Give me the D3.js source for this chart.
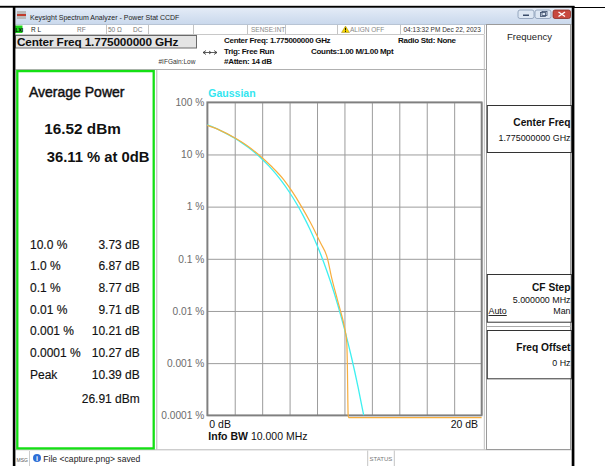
<!DOCTYPE html>
<html><head><meta charset="utf-8">
<script src="https://cdn.jsdelivr.net/npm/d3@7"></script>
<style>
html,body{margin:0;padding:0;background:#fff;}
svg{display:block;font-family:"Liberation Sans",Arial,sans-serif;}
</style></head><body>
<svg id="c" width="605" height="466"></svg>
<script>
// ---------- data ----------
const gaussDb  = [0,0.5,1,1.5,2,2.5,3,3.5,4,4.5,5,5.5,6,6.5,7,7.5,8,8.5,9,9.5,10,10.5,11,11.4];
const gaussPct = [36.79,32.56,28.40,24.35,20.50,16.89,13.60,10.66,8.11,5.97,4.232,2.878,1.867,1.148,0.6654,0.3607,0.1817,0.0843,0.0355,0.01347,0.00454,0.00134,0.000341,0.000101];
const measDb   = [0,0.82,2.12,2.86,3.73,4.65,5.61,6.16,6.87,7.51,7.94,8.26,8.77,9.05,9.3,9.5,9.71,9.9,10.05,10.17,10.21,10.27,10.3,20];
const measPct  = [36.11,30,20,15,10,6,3.2,2,1,0.5,0.3,0.2,0.1,0.045,0.025,0.016,0.01,0.0065,0.0042,0.0025,0.001,0.0001,0.00009,0.00009];
const yTickValues = [100,10,1,0.1,0.01,0.001,0.0001];
const yTickLabels = ["100 %","10 %","1 %","0.1 %","0.01 %","0.001 %","0.0001 %"];
const xTickValues = [0,2,4,6,8,10,12,14,16,18,20];
const xEndLabels  = ["0 dB","20 dB"];
const statLevels = ["10.0 %","1.0 %","0.1 %","0.01 %","0.001 %","0.0001 %","Peak"];
const statValues = ["3.73 dB","6.87 dB","8.77 dB","9.71 dB","10.21 dB","10.27 dB","10.39 dB"];
const peakDbm = "26.91 dBm";
const avgTitle = "Average Power";
const avgPower = "16.52 dBm";
const pctAtZero = "36.11 % at 0dB";
const traceLabel = "Gaussian";

const svg = d3.select("#c");
const F = "'Liberation Sans',Arial,sans-serif";
function txt(g,x,y,s,opt={}){
  const t = g.append("text").attr("x",x).attr("y",y).text(s)
    .attr("font-size",opt.size||8).attr("fill",opt.fill||"#000")
    .attr("font-weight",opt.bold?"bold":"normal")
    .attr("text-anchor",opt.anchor||"start");
  if(opt.ls!==undefined) t.attr("letter-spacing",opt.ls);
  if(opt.deco) t.attr("text-decoration",opt.deco);
  if(opt.sw) t.attr("stroke",opt.fill||"#000").attr("stroke-width",opt.sw);
  return t;
}

// ---------- window frame ----------
const defs = svg.append("defs");
const tg = defs.append("linearGradient").attr("id","tb").attr("x1",0).attr("y1",0).attr("x2",0).attr("y2",1);
tg.append("stop").attr("offset","0").attr("stop-color","#e4ecf7");
tg.append("stop").attr("offset","1").attr("stop-color","#c9d8ec");
svg.append("rect").attr("x",15.5).attr("y",7.5).attr("width",556).attr("height",17).attr("fill","url(#tb)");
// icon
svg.append("rect").attr("x",17).attr("y",11).attr("width",9).attr("height",8).attr("fill","#b9b9b9");
svg.append("rect").attr("x",17).attr("y",14).attr("width",9).attr("height",2).attr("fill","#c0392b");
txt(svg,30,19.5,"Keysight Spectrum Analyzer - Power Stat CCDF",{size:7,fill:"#1e1e1e"});
// window buttons
[[518,"min"],[535,"res"]].forEach(([bx,k])=>{
  svg.append("rect").attr("x",bx).attr("y",10).attr("width",16).attr("height",8.5).attr("rx",2)
    .attr("fill","#dde7f3").attr("stroke","#8799b3").attr("stroke-width",0.8);
  if(k==="min") svg.append("rect").attr("x",bx+5).attr("y",14.5).attr("width",6).attr("height",1.5).attr("fill","#3a4d6a");
  else { svg.append("rect").attr("x",bx+5.5).attr("y",12.5).attr("width",5).attr("height",4).attr("fill","none").attr("stroke","#3a4d6a").attr("stroke-width",0.8);
         svg.append("rect").attr("x",bx+7).attr("y",11.5).attr("width",5).attr("height",4).attr("fill","none").attr("stroke","#3a4d6a").attr("stroke-width",0.8);}
});
svg.append("rect").attr("x",553).attr("y",10).attr("width",17.5).attr("height",8.5).attr("rx",2)
  .attr("fill","#c8493f").attr("stroke","#8a2d25").attr("stroke-width",0.8);
svg.append("path").attr("d","M558.5,12 L565,16.5 M565,12 L558.5,16.5").attr("stroke","#fff").attr("stroke-width",1.4);

// status row
svg.append("line").attr("x1",15.5).attr("x2",484.5).attr("y1",34.5).attr("y2",34.5).attr("stroke","#c8c8c8");
svg.append("line").attr("x1",15.5).attr("x2",571.5).attr("y1",24.5).attr("y2",24.5).attr("stroke","#b8c4d4");
svg.append("rect").attr("x",15).attr("y",25.5).attr("width",7.5).attr("height",7.5).attr("fill","#1ed61e");
txt(svg,15.4,31.7,"LXI",{size:5,bold:true,fill:"#000"});
txt(svg,31,31.5,"R L",{size:6.5,fill:"#222"});
txt(svg,77,31.5,"RF",{size:6.5,fill:"#777"});
txt(svg,108,31.5,"50 Ω",{size:6.5,fill:"#777"});
txt(svg,133,31.5,"DC",{size:6.5,fill:"#777"});
[106,148,193,247,285,337,400,484].forEach(sx=>{
  svg.append("line").attr("x1",sx+0.5).attr("x2",sx+0.5).attr("y1",25).attr("y2",34).attr("stroke","#c4c4c4");
});
txt(svg,251,31.5,"SENSE:INT",{size:6.5,fill:"#888"});
svg.append("path").attr("d","M345.5,26 L349.5,32.5 L341.5,32.5 Z").attr("fill","#f5d400").attr("stroke","#8a7300").attr("stroke-width",0.4);
svg.append("rect").attr("x",345.1).attr("y",27.8).attr("width",0.9).attr("height",2.6).attr("fill","#000");
svg.append("rect").attr("x",345.1).attr("y",31).attr("width",0.9).attr("height",0.9).attr("fill","#000");
txt(svg,350,31.5,"ALIGN OFF",{size:6.5,fill:"#888"});
txt(svg,403.5,31.5,"04:13:32 PM Dec 22, 2023",{size:6.5,fill:"#333"});

// header row 2
svg.append("rect").attr("x",15.5).attr("y",35.5).attr("width",181).attr("height",12.5)
  .attr("fill","#e4e4e4").attr("stroke","#6a6a6a").attr("stroke-width",1);
txt(svg,17,46.2,"Center Freq 1.775000000 GHz",{size:11.8,bold:true,fill:"#111",ls:-0.15});
txt(svg,224,43,"Center Freq: 1.775000000 GHz",{size:8,bold:true,fill:"#111",ls:-0.3});
txt(svg,224,53.5,"Trig: Free Run",{size:8,bold:true,fill:"#111",ls:-0.3});
txt(svg,224,64,"#Atten: 14 dB",{size:8,bold:true,fill:"#111",ls:-0.3});
txt(svg,398,43,"Radio Std: None",{size:8,bold:true,fill:"#111",ls:-0.3});
txt(svg,311,53.5,"Counts:1.00 M/1.00 Mpt",{size:8,bold:true,fill:"#111",ls:-0.3});
txt(svg,158.5,63.5,"#IFGain:Low",{size:6.5,fill:"#333"});
svg.append("path").attr("d","M203,52.5 L217,52.5 M206,50.5 L203,52.5 L206,54.5 M214,50.5 L217,52.5 L214,54.5 M209,51 L211,52.5 L209,54")
  .attr("stroke","#333").attr("stroke-width",0.8).attr("fill","none");

// main panel outline
svg.append("line").attr("x1",15.5).attr("x2",486).attr("y1",69.5).attr("y2",69.5).attr("stroke","#b0b0b0");
svg.append("line").attr("x1",156.8).attr("x2",156.8).attr("y1",70).attr("y2",449.5).attr("stroke","#b4b4b4");
svg.append("line").attr("x1",484.3).attr("x2",484.3).attr("y1",35).attr("y2",449.5).attr("stroke","#c0c0c0");
svg.append("line").attr("x1",15.5).attr("x2",571.5).attr("y1",449.8).attr("y2",449.8).attr("stroke","#b8b8b8");

// ---------- left results panel ----------
svg.append("rect").attr("x",17.3).attr("y",71.1).attr("width",136.4).attr("height",377.3)
  .attr("fill","none").attr("stroke","#14e014").attr("stroke-width",2.3);
txt(svg,29,97.3,avgTitle,{size:14,fill:"#111",sw:0.45});
txt(svg,44.3,134,avgPower,{size:15.3,bold:true,fill:"#111"});
txt(svg,46.7,161.7,pctAtZero,{size:14.8,bold:true,fill:"#111"});
const rowG = svg.append("g");
statLevels.forEach((s,i)=>{
  const by = 248.6 + i*21.67;
  txt(rowG,30,by,s,{size:12,fill:"#111",sw:0.15});
  txt(rowG,139.8,by,statValues[i],{size:12,fill:"#111",anchor:"end",sw:0.15});
});
txt(rowG,139.8,403.3,peakDbm,{size:12,fill:"#111",anchor:"end",sw:0.15});

// ---------- plot ----------
const x = d3.scaleLinear().domain([0,20]).range([207.3,481.6]);
const y = d3.scaleLog().domain([0.0001,100]).range([415.3,102.3]);
const plotW = x.range()[1]-x.range()[0];
const plotH = y.range()[0]-y.range()[1];

const gy = svg.append("g").attr("transform",`translate(${x.range()[0]},0)`)
  .call(d3.axisLeft(y).tickValues(yTickValues).tickFormat((d,i)=>yTickLabels[i]).tickSize(-plotW).tickPadding(3));
gy.select(".domain").remove();
gy.selectAll(".tick line").attr("stroke","#9c9c9c").attr("stroke-width",1);
gy.selectAll(".tick text").attr("font-family",F).attr("font-size",10.2).attr("fill","#6c6c6c");

const gx = svg.append("g").attr("transform",`translate(0,${y.range()[0]})`)
  .call(d3.axisBottom(x).tickValues(xTickValues).tickFormat("").tickSize(-plotH));
gx.select(".domain").remove();
gx.selectAll(".tick line").attr("stroke","#9c9c9c").attr("stroke-width",1);

svg.append("rect").attr("x",x.range()[0]).attr("y",y.range()[1]).attr("width",plotW).attr("height",plotH)
  .attr("fill","none").attr("stroke","#808080").attr("stroke-width",1.8);

const line = d3.line().x(d=>x(d[0])).y(d=>y(d[1])).curve(d3.curveMonotoneX);
svg.append("path").datum(gaussDb.map((d,i)=>[d,gaussPct[i]]))
  .attr("d",line).attr("fill","none").attr("stroke","#3ef0f0").attr("stroke-width",1.3);
svg.append("path").datum(measDb.map((d,i)=>[d,measPct[i]]))
  .attr("d",line).attr("fill","none").attr("stroke","#f7ae3e").attr("stroke-width",1.2);

txt(svg,208.3,97,traceLabel,{size:10.5,bold:true,fill:"#33e6f0"});
txt(svg,x(0)+2,428,xEndLabels[0],{size:10.5,fill:"#111"});
txt(svg,x(20)-3.5,428,xEndLabels[1],{size:10.5,fill:"#111",anchor:"end"});
const ib = svg.append("text").attr("x",208.3).attr("y",440).attr("font-size",10.5).attr("fill","#111");
ib.append("tspan").attr("font-weight","bold").text("Info BW ");
ib.append("tspan").text("10.000 MHz");

// ---------- right softkey panel ----------
svg.append("rect").attr("x",486.5).attr("y",24.5).attr("width",84).attr("height",425).attr("fill","#fff").attr("stroke","#9a9a9a");
txt(svg,529.5,39.5,"Frequency",{size:9.5,fill:"#222",anchor:"middle"});
[[105,152],[274,321.7],[330,378.3]].forEach(([a,b])=>{
  svg.append("rect").attr("x",487.3).attr("y",a+0.5).attr("width",84).attr("height",b-a).attr("fill","#fff").attr("stroke","#333").attr("stroke-width",1);
});
svg.append("line").attr("x1",487).attr("x2",571).attr("y1",326.5).attr("y2",326.5).attr("stroke","#aaa");
txt(svg,570.5,125.5,"Center Freq",{size:10.2,bold:true,fill:"#111",anchor:"end"});
txt(svg,570.5,140.5,"1.775000000 GHz",{size:8.9,fill:"#111",anchor:"end"});
txt(svg,570.5,290.5,"CF Step",{size:10.2,bold:true,fill:"#111",anchor:"end"});
txt(svg,570.5,303,"5.000000 MHz",{size:8.9,fill:"#111",anchor:"end"});
txt(svg,488.5,314,"Auto",{size:8.9,fill:"#111",deco:"underline"});
txt(svg,570.5,314,"Man",{size:8.9,fill:"#111",anchor:"end"});
txt(svg,570.5,351,"Freq Offset",{size:10.2,bold:true,fill:"#111",anchor:"end"});
txt(svg,570.5,365.7,"0 Hz",{size:8.9,fill:"#111",anchor:"end"});

// ---------- bottom message bar ----------
txt(svg,16.5,461.5,"MSG",{size:5,fill:"#555"});
svg.append("line").attr("x1",29.5).attr("x2",29.5).attr("y1",451).attr("y2",466).attr("stroke","#ccc");
svg.append("circle").attr("cx",37).attr("cy",458).attr("r",4).attr("fill","#2f6fd6");
txt(svg,37,460.8,"i",{size:7,bold:true,fill:"#fff",anchor:"middle"});
txt(svg,43.3,461.8,"File <capture.png> saved",{size:8.6,fill:"#222"});
[367.7,394.3].forEach(sx=>svg.append("line").attr("x1",sx).attr("x2",sx).attr("y1",450.5).attr("y2",466).attr("stroke","#c4c4c4"));
txt(svg,369.5,461,"STATUS",{size:6,fill:"#777"});

// ---------- black borders ----------
svg.append("rect").attr("x",0).attr("y",5.8).attr("width",574.5).attr("height",1.9).attr("fill","#000");
svg.append("rect").attr("x",574).attr("y",7).attr("width",31).attr("height",1).attr("fill","#000");
svg.append("rect").attr("x",12.8).attr("y",6).attr("width",2.6).attr("height",460).attr("fill","#000");
svg.append("rect").attr("x",571.7).attr("y",6).attr("width",2.7).attr("height",460).attr("fill","#000");
</script>
</body></html>
